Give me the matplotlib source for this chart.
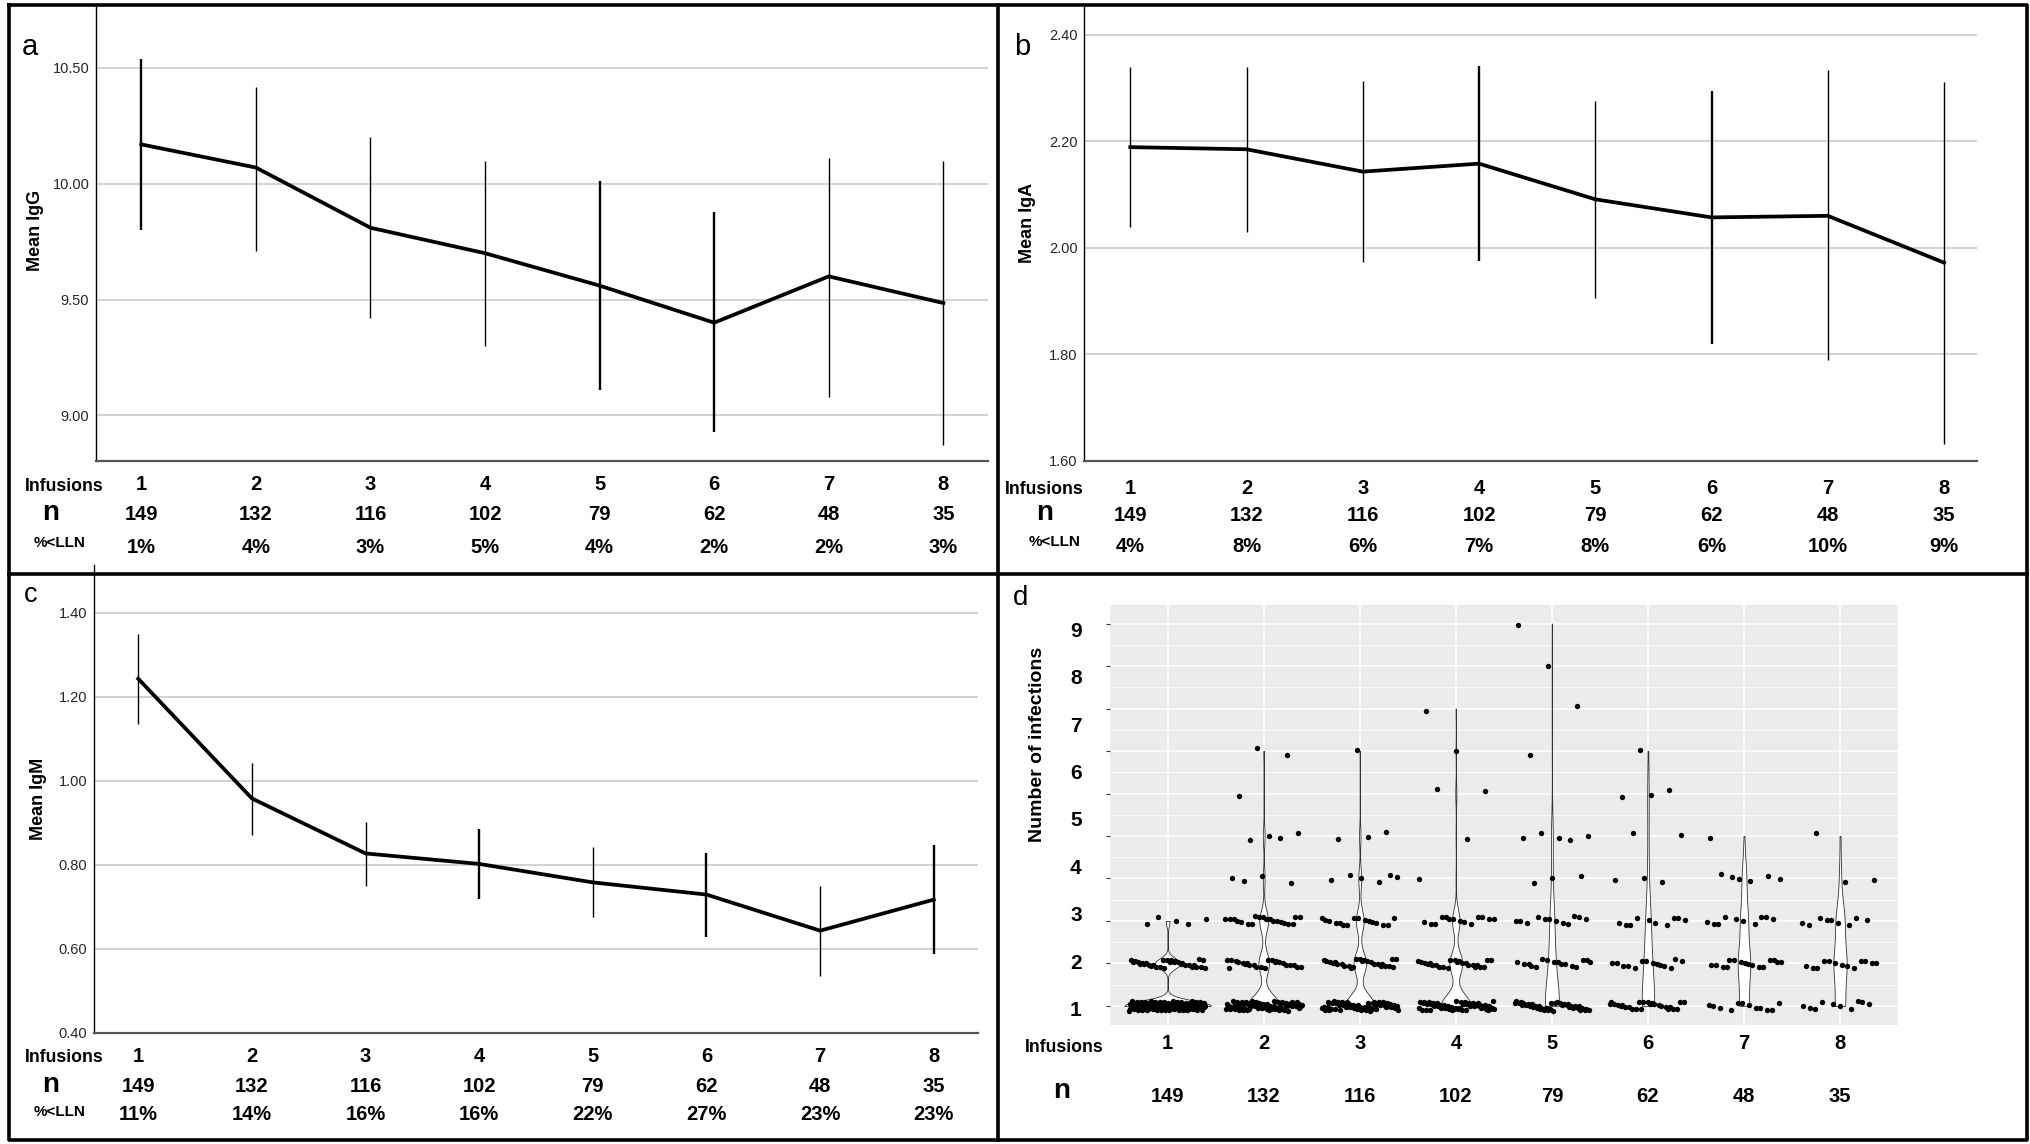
import numpy as np
import matplotlib
matplotlib.use('Agg')
import matplotlib.pyplot as plt
from matplotlib import transforms
from matplotlib.lines import Line2D

# ******************** DATA ********************
infusions = [1, 2, 3, 4, 5, 6, 7, 8]
n_patients = [149, 132, 116, 102, 79, 62, 48, 35]

igg_mean = [10.17, 10.07, 9.81, 9.70, 9.56, 9.40, 9.60, 9.485]
igg_low = [9.80, 9.71, 9.42, 9.30, 9.11, 8.93, 9.08, 8.87]
igg_high = [10.54, 10.42, 10.20, 10.10, 10.01, 9.88, 10.11, 10.10]
igg_lln = ['1%', '4%', '3%', '5%', '4%', '2%', '2%', '3%']

iga_mean = [2.189, 2.185, 2.143, 2.158, 2.091, 2.057, 2.060, 1.972]
iga_low = [2.039, 2.030, 1.973, 1.976, 1.906, 1.820, 1.789, 1.632]
iga_high = [2.339, 2.339, 2.314, 2.342, 2.276, 2.294, 2.333, 2.311]
iga_lln = ['4%', '8%', '6%', '7%', '8%', '6%', '10%', '9%']

igm_mean = [1.243, 0.958, 0.827, 0.802, 0.758, 0.729, 0.643, 0.717]
igm_low = [1.135, 0.870, 0.749, 0.718, 0.676, 0.629, 0.535, 0.587]
igm_high = [1.349, 1.043, 0.903, 0.886, 0.842, 0.828, 0.749, 0.847]
igm_lln = ['11%', '14%', '16%', '16%', '22%', '27%', '23%', '23%']

# number of patients at each infection level, one row per infusion
infection_levels = [1, 2, 3, 4, 5, 6, 7, 8, 9, 10]
infection_counts = [
    [110, 32, 5, 0, 0, 0, 0, 0, 0, 0],
    [74, 24, 20, 4, 4, 1, 2, 0, 0, 0],
    [62, 26, 16, 6, 3, 0, 1, 0, 0, 0],
    [56, 24, 14, 1, 1, 2, 1, 1, 0, 0],
    [40, 16, 12, 3, 5, 0, 1, 1, 1, 1],
    [26, 14, 10, 3, 2, 3, 1, 0, 0, 0],
    [12, 16, 10, 6, 1, 0, 0, 0, 0, 0],
    [10, 13, 9, 2, 1, 0, 0, 0, 0, 0],
]
d_tick_labels = ['1', '2', '3', '4', '5', '6', '7', '8', '9']

# ******************** FIGURE ********************
plt.rcParams['font.family'] = ['Liberation Sans', 'DejaVu Sans']
W, H = 2030, 1144
fig = plt.figure(figsize=(W / 100, H / 100), dpi=100, facecolor='white')


def fx(px):
    return px / W


def fy(py):
    return 1 - py / H


def add_ax(left, top, right, bottom):
    return fig.add_axes([fx(left), fy(bottom), (right - left) / W, (bottom - top) / H])


TICKFONT = ['Liberation Sans Narrow', 'Liberation Sans']
NUMSIZE = 14.5


def mean_panel(ax, means, lows, highs, thick, xlim, ylim, yticks):
    ax.set_xlim(*xlim)
    ax.set_ylim(*ylim)
    ax.set_yticks(yticks)
    ax.set_yticklabels(['%.2f' % t for t in yticks], family=TICKFONT, fontsize=10.5, color='#262626')
    ax.set_xticks([])
    ax.tick_params(axis='y', length=0, pad=4.5)
    ax.grid(axis='y', color='#c6c6c6', lw=1.1)
    ax.set_axisbelow(True)
    for s in ['top', 'right']:
        ax.spines[s].set_visible(False)
    ax.spines['left'].set_color('black')
    ax.spines['left'].set_linewidth(1.0)
    ax.spines['bottom'].set_color('#555555')
    ax.spines['bottom'].set_linewidth(1.6)
    lws = [1.7 if i in thick else 1.0 for i in infusions]
    ax.vlines(infusions, lows, highs, colors='black', linewidths=lws)
    ax.plot(infusions, means, color='black', lw=2.7)


def rows(ax, baselines, row_texts):
    trans = transforms.blended_transform_factory(ax.transData, fig.transFigure)
    for base, texts in zip(baselines, row_texts):
        for x, t in zip(infusions, texts):
            ax.text(x, fy(base), t, transform=trans, ha='center', va='baseline',
                    fontsize=NUMSIZE, fontweight='bold')


def row_titles(cx_inf, cx_n, cx_lln, b_inf, b_n, b_lln):
    fig.text(fx(cx_inf), fy(b_inf), 'Infusions', ha='center', va='baseline', fontsize=12.7, fontweight='bold')
    fig.text(fx(cx_n), fy(b_n), 'n', ha='center', va='baseline', fontsize=20, fontweight='bold')
    if cx_lln is not None:
        fig.text(fx(cx_lln), fy(b_lln), '%<LLN', ha='center', va='baseline', fontsize=11, fontweight='bold')


# ******************** PANEL A ********************
ax_a = add_ax(95.5, 5, 988, 460.7)
mean_panel(ax_a, igg_mean, igg_low, igg_high, [1, 5, 6], (0.6, 8.39), (8.804, 10.772), [9.0, 9.5, 10.0, 10.5])
rows(ax_a, [490.5, 520.5, 553], [[str(i) for i in infusions], [str(n) for n in n_patients], igg_lln])
row_titles(64.4, 51, 59.7, 491, 520, 547)
fig.text(fx(35), fy(230), 'Mean IgG', rotation=90, ha='center', va='center', fontsize=13, fontweight='bold')
fig.text(fx(22), fy(55), 'a', ha='left', va='baseline', fontsize=21)

# ******************** PANEL B ********************
ax_b = add_ax(1083.8, 5, 1976.6, 460.7)
mean_panel(ax_b, iga_mean, iga_low, iga_high, [4, 6], (0.6, 8.28), (1.60, 2.456), [1.6, 1.8, 2.0, 2.2, 2.4])
rows(ax_b, [493.5, 521, 552.5], [[str(i) for i in infusions], [str(n) for n in n_patients], iga_lln])
row_titles(1044.5, 1044.7, 1055, 494.3, 520, 545.5)
fig.text(fx(1027.6), fy(222.5), 'Mean IgA', rotation=90, ha='center', va='center', fontsize=13, fontweight='bold')
fig.text(fx(1013.8), fy(55), 'b', ha='left', va='baseline', fontsize=21)

# ******************** PANEL C ********************
ax_c = add_ax(93.5, 565, 978.3, 1032.7)
mean_panel(ax_c, igm_mean, igm_low, igm_high, [4, 6, 8], (0.606, 8.392), (0.40, 1.514),
           [0.4, 0.6, 0.8, 1.0, 1.2, 1.4])
rows(ax_c, [1061.7, 1091.7, 1120], [[str(i) for i in infusions], [str(n) for n in n_patients], igm_lln])
row_titles(64.4, 51, 59.7, 1062, 1092, 1116)
fig.text(fx(38.8), fy(799), 'Mean IgM', rotation=90, ha='center', va='center', fontsize=13, fontweight='bold')
fig.text(fx(24), fy(601.7), 'c', ha='left', va='baseline', fontsize=19.5)

# ******************** PANEL D ********************
ax_d = add_ax(1110, 604.5, 1897.7, 1025)
ax_d.set_facecolor('#ebebeb')
ax_d.set_xlim(0.4, 8.6)
ax_d.set_ylim(0.55, 10.45)
for s in ax_d.spines.values():
    s.set_visible(False)
ax_d.set_xticks(infusions)
ax_d.set_xticklabels([])
ax_d.set_yticks(infection_levels)
ax_d.set_yticklabels([])
ax_d.set_yticks([l + 0.5 for l in infection_levels[:-1]], minor=True)
ax_d.tick_params(axis='x', length=0)
ax_d.tick_params(axis='y', which='major', length=3.2, width=0.8, color='#333333')
ax_d.tick_params(axis='y', which='minor', length=0)
ax_d.grid(which='major', color='white', lw=1.1)
ax_d.grid(which='minor', axis='y', color='white', lw=0.55)
ax_d.set_axisbelow(True)


def nrd0(x):
    hi = np.std(x, ddof=1)
    q75, q25 = np.percentile(x, [75, 25])
    lo = min(hi, (q75 - q25) / 1.34)
    if lo == 0:
        lo = hi if hi > 0 else 1.0
    return 0.9 * lo * len(x) ** (-0.2)


# violins, area-scaled like ggplot
dens = []
for counts in infection_counts:
    vals = np.repeat(infection_levels, counts).astype(float)
    bw = nrd0(vals)
    grid = np.linspace(vals.min(), vals.max(), 512)
    d = np.exp(-0.5 * ((grid[:, None] - vals[None, :]) / bw) ** 2).sum(axis=1) / (len(vals) * bw * np.sqrt(2 * np.pi))
    dens.append((grid, d))
dmax = max(d.max() for g, d in dens)
for x, (grid, d) in zip(infusions, dens):
    hw = d / dmax * 0.45
    ax_d.fill_betweenx(grid, x - hw, x + hw, facecolor='white', edgecolor='#333333', lw=0.6, zorder=2)

# jittered points (deterministic spread)
for gi, counts in enumerate(infection_counts):
    xs, ys = [], []
    k = 0
    for lev, c in zip(infection_levels, counts):
        for j in range(c):
            u = (k * 0.6180339887 + 0.31 * gi) % 1.0
            v = (k * 0.7548776662 + 0.17 * gi) % 1.0
            xs.append(infusions[gi] + (u - 0.5) * 0.8)
            ys.append(lev + (v - 0.5) * 0.22)
            k += 1
    ax_d.scatter(xs, ys, s=15, color='black', lw=0, zorder=3)

# y labels as drawn in the reference
lab_trans = transforms.blended_transform_factory(ax_d.transAxes, ax_d.transData) + \
    transforms.ScaledTranslation(0, -15 * 0.358 / 72, fig.dpi_scale_trans)
for lab, ypos in zip(d_tick_labels, np.linspace(0.94, 9.86, len(d_tick_labels))):
    ax_d.text(-0.036, ypos, lab, transform=lab_trans, ha='right', va='baseline', fontsize=15, fontweight='bold')

trans_d = transforms.blended_transform_factory(ax_d.transData, fig.transFigure)
for x, n in zip(infusions, n_patients):
    ax_d.text(x, fy(1049), str(x), transform=trans_d, ha='center', va='baseline', fontsize=NUMSIZE, fontweight='bold')
    ax_d.text(x, fy(1101.6), str(n), transform=trans_d, ha='center', va='baseline', fontsize=NUMSIZE, fontweight='bold')
row_titles(1064, 1062, None, 1052, 1098, None)
fig.text(fx(1037), fy(744.5), 'Number of infections', rotation=90, ha='center', va='center',
         fontsize=14, fontweight='bold')
fig.text(fx(1013), fy(605), 'd', ha='left', va='baseline', fontsize=20)

# ******************** BORDERS ********************
bl = 2.6
fig.add_artist(Line2D([fx(8.5), fx(2027), fx(2027), fx(8.5), fx(8.5)],
                      [fy(5), fy(5), fy(1140), fy(1140), fy(5)], color='black', lw=bl))
fig.add_artist(Line2D([fx(998), fx(998)], [fy(5), fy(1140)], color='black', lw=bl))
fig.add_artist(Line2D([fx(8.5), fx(2027)], [fy(573.5), fy(573.5)], color='black', lw=bl))

fig.savefig('out.png', dpi=100, facecolor='white')
